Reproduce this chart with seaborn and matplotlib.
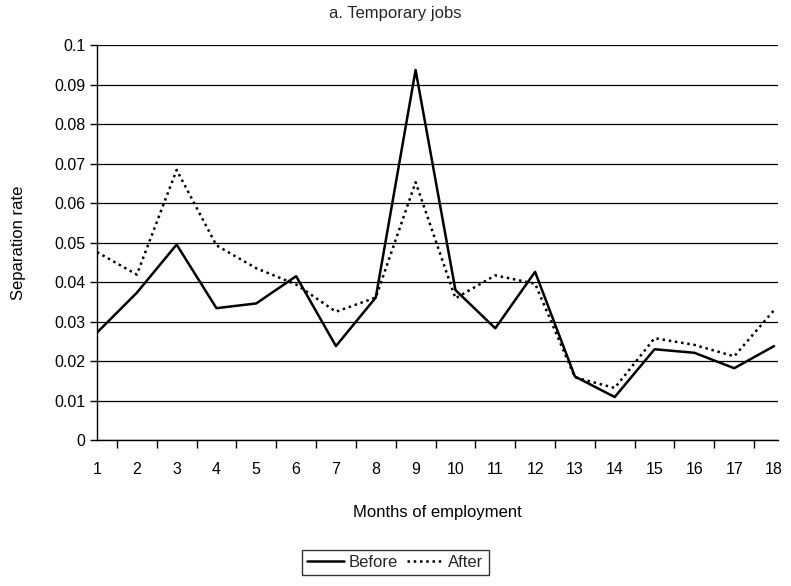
import matplotlib
matplotlib.use("Agg")
import matplotlib.pyplot as plt
import seaborn as sns
import pandas as pd
from matplotlib.ticker import FixedLocator, MultipleLocator, FuncFormatter
from matplotlib.lines import Line2D

months = list(range(1, 19))
before = [0.0272, 0.0373, 0.0495, 0.0334, 0.0346, 0.0415, 0.0238, 0.0361, 0.0937,
          0.0380, 0.0283, 0.0426, 0.0161, 0.0109, 0.0230, 0.0221, 0.0182, 0.0238]
after = [0.0476, 0.0419, 0.0684, 0.0493, 0.0435, 0.0394, 0.0325, 0.0361, 0.0653,
         0.0359, 0.0417, 0.0396, 0.0159, 0.0132, 0.0258, 0.0241, 0.0212, 0.0329]
series_names = ["Before", "After"]

df = pd.DataFrame({
    "Month": months * 2,
    "Rate": before + after,
    "Series": [series_names[0]] * len(months) + [series_names[1]] * len(months),
})

sns.set_theme(style="white")
plt.rcParams['font.family'] = ['Liberation Sans Narrow', 'Liberation Sans', 'DejaVu Sans']

fig = plt.figure(figsize=(7.91, 5.86), dpi=100)
ax = fig.add_axes([0.1226, 0.249, 0.9836 - 0.1226, 0.923 - 0.249])

sns.lineplot(data=df, x="Month", y="Rate", hue="Series", style="Series",
             palette={"Before": "black", "After": "black"},
             dashes={"Before": "", "After": (1.0, 1.5)},
             linewidth=1.8, ax=ax, legend=False)

ax.set_xlim(1, 18.1)
ax.set_ylim(0, 0.1)
ax.yaxis.set_major_locator(MultipleLocator(0.01))
ax.yaxis.set_major_formatter(FuncFormatter(lambda v, p: "0" if abs(v) < 1e-9 else ("%.2f" % v).rstrip("0").rstrip(".")))
ax.set_xticks(months)
ax.set_xticklabels([str(m) for m in months])
ax.xaxis.set_minor_locator(FixedLocator([m + 0.5 for m in months[:-1]]))
ax.tick_params(axis="x", which="major", length=0, labelsize=11.5, pad=16, colors="black")
ax.tick_params(axis="x", which="minor", length=6, width=1, direction="out", color="black", bottom=True)
ax.tick_params(axis="y", which="major", length=5, width=1, direction="out", color="black", left=True, labelsize=11.5, colors="black")

ax.grid(axis="y", color="black", linewidth=0.9)
ax.grid(axis="x", visible=False)
for s in ["top", "right"]:
    ax.spines[s].set_visible(False)
for s in ["left", "bottom"]:
    ax.spines[s].set_color("black")
    ax.spines[s].set_linewidth(1.0)

ax.set_xlabel("Months of employment", fontsize=12, labelpad=20, color="black")
ax.set_ylabel("Separation rate", fontsize=12, labelpad=20, color="black")
fig.suptitle("a. Temporary jobs", fontsize=12, y=0.99, x=0.5)

handles = [Line2D([], [], color="black", lw=1.8),
           Line2D([], [], color="black", lw=1.8, dashes=(1.0, 1.5))]
leg = fig.legend(handles, series_names, loc="center", bbox_to_anchor=(0.5, 0.04), ncol=2,
                 frameon=True, fancybox=False, edgecolor="black", fontsize=12,
                 handlelength=2.2, handletextpad=0.3, columnspacing=0.5, borderpad=0.3)
leg.get_frame().set_linewidth(1.0)

fig.savefig("out.png", dpi=100)
